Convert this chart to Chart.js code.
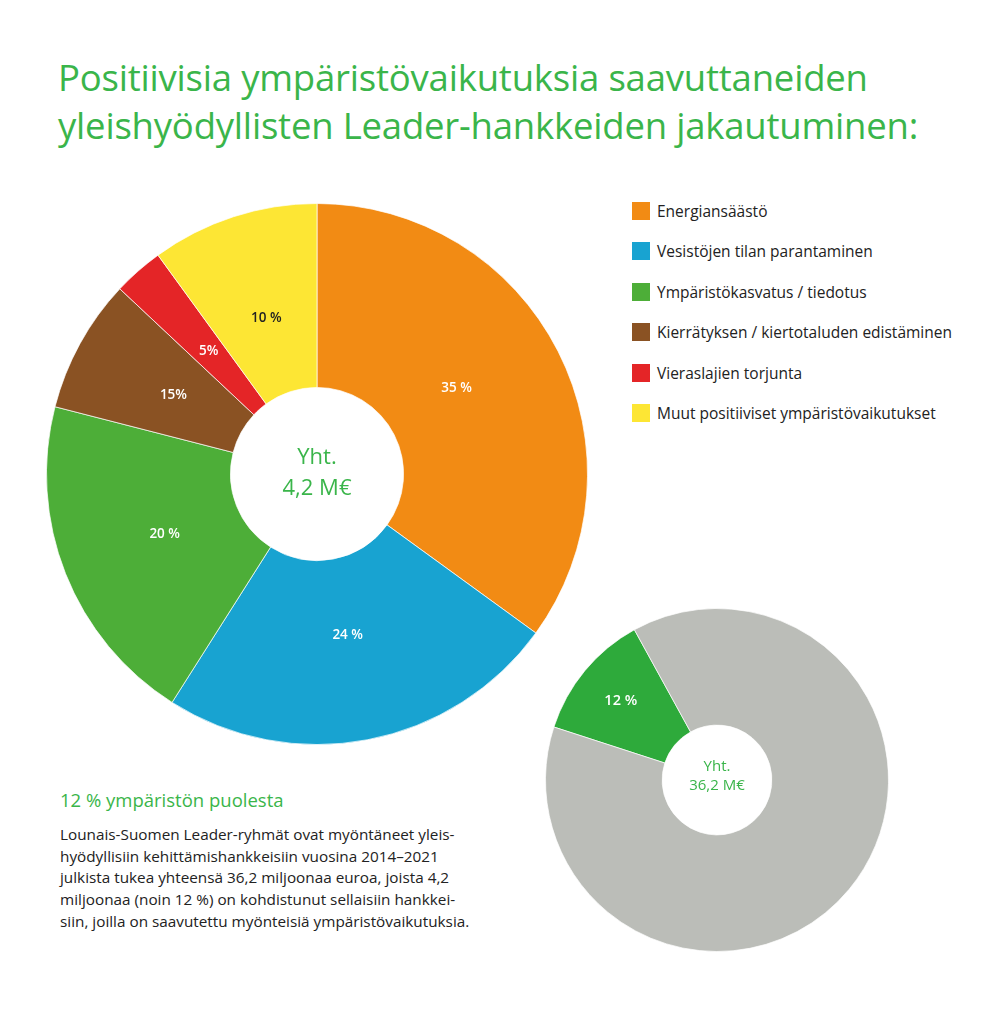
<!DOCTYPE html>
<html>
<head>
<meta charset="utf-8">
<script src="https://cdn.jsdelivr.net/npm/chart.js@4.4.1/dist/chart.umd.min.js"></script>
<style>
  body { margin: 0; background: #fff; font-family: 'Open Sans', sans-serif; }
  #page { position: relative; width: 984px; height: 1024px; overflow: hidden; }
  h1 { position: absolute; left: 58px; top: 53px; margin: 0; font-weight: 400; font-size: 36.5px; line-height: 48px; color: #3ab54a; letter-spacing: -0.2px; }
  #bigWrap { position: absolute; left: 46px; top: 203px; width: 542px; height: 542px; }
  #smallWrap { position: absolute; left: 545px; top: 608px; width: 344px; height: 344px; }
  .center { position: absolute; text-align: center; color: #3ab54a; }
  #legend { position: absolute; left: 632px; top: 202px; font-size: 15.5px; color: #222; }
  #legend div { height: 40.4px; display: flex; align-items: flex-start; }
  #legend span.box { width: 18px; height: 18px; margin-right: 7px; display: inline-block; flex: none; }
  #legend span.txt { margin-top: -2px; }
  #sub { position: absolute; left: 60px; top: 787px; font-size: 18.5px; color: #3ab54a; }
  #para { position: absolute; left: 60px; top: 824px; font-size: 15.3px; line-height: 21.7px; color: #222; }
</style>
</head>
<body>
<div id="page">
  <h1>Positiivisia ympäristövaikutuksia saavuttaneiden<br>yleishyödyllisten Leader-hankkeiden jakautuminen:</h1>
  <div id="bigWrap"><canvas id="big"></canvas></div>
  <div class="center" style="left:257px; top:440px; width:120px; font-size:22px; line-height:31px;">Yht.<br>4,2 M€</div>
  <div id="smallWrap"><canvas id="small"></canvas></div>
  <div class="center" style="left:667px; top:756px; width:100px; font-size:15px; line-height:19px;">Yht.<br>36,2 M€</div>
  <div id="legend"></div>
  <div id="sub">12 % ympäristön puolesta</div>
  <div id="para">Lounais-Suomen Leader-ryhmät ovat myöntäneet yleis-<br>hyödyllisiin kehittämishankkeisiin vuosina 2014–2021<br>julkista tukea yhteensä 36,2 miljoonaa euroa, joista 4,2<br>miljoonaa (noin 12 %) on kohdistunut sellaisiin hankkei-<br>siin, joilla on saavutettu myönteisiä ympäristövaikutuksia.</div>
</div>
<script>
// categories and values
const categories = ['Energiansäästö', 'Vesistöjen tilan parantaminen', 'Ympäristökasvatus / tiedotus',
  'Kierrätyksen / kiertotaluden edistäminen', 'Vieraslajien torjunta', 'Muut positiiviset ympäristövaikutukset'];
const sliceValues = [35, 24, 20, 8, 3, 10];
const sliceLabels = ['35 %', '24 %', '20 %', '15%', '5%', '10 %'];
const sliceColors = ['#f28b14', '#18a3d1', '#4dae38', '#8a5223', '#e42527', '#fde634'];
const labelColors = ['#fff', '#fff', '#fff', '#fff', '#fff', '#222'];

const totalCategories = ['Ympäristövaikutukset', 'Muut hankkeet'];
const totalValues = [12, 88];
const totalLabels = ['12 %', ''];
const totalColors = ['#2eaa3b', '#bbbdb8'];

// draws the percentage text inside each slice
const sliceText = {
  id: 'sliceText',
  afterDatasetsDraw(chart, args, opts) {
    const ctx = chart.ctx;
    const meta = chart.getDatasetMeta(0);
    ctx.save();
    ctx.font = '600 ' + opts.size + 'px "Open Sans", sans-serif';
    ctx.textAlign = 'center';
    ctx.textBaseline = 'middle';
    meta.data.forEach((arc, i) => {
      const txt = opts.labels[i];
      if (!txt) return;
      const p = arc.getProps(['x', 'y', 'startAngle', 'endAngle', 'innerRadius', 'outerRadius']);
      const a = (p.startAngle + p.endAngle) / 2 - (opts.shift ? opts.shift[i] : 0);
      const r = p.innerRadius + (p.outerRadius - p.innerRadius) * opts.pos;
      ctx.fillStyle = opts.colors[i];
      ctx.fillText(txt, p.x + Math.cos(a) * r, p.y + Math.sin(a) * r);
    });
    ctx.restore();
  }
};

function makeDoughnut(id, labels, data, colors, textOpts, rotation) {
  return new Chart(document.getElementById(id), {
    type: 'doughnut',
    data: {
      labels: labels,
      datasets: [{
        data: data,
        backgroundColor: colors,
        borderColor: 'rgba(255,255,255,0.7)',
        borderWidth: 1
      }]
    },
    options: {
      responsive: true,
      maintainAspectRatio: true,
      animation: false,
      cutout: '32%',
      rotation: rotation,
      layout: { padding: 0 },
      plugins: {
        legend: { display: false },
        tooltip: { enabled: false },
        sliceText: textOpts
      }
    },
    plugins: [sliceText]
  });
}

makeDoughnut('big', categories, sliceValues, sliceColors,
  { labels: sliceLabels, colors: labelColors, size: 13.5, pos: 0.42, shift: [0.08, 0, 0, 0, 0, 0] }, 0);
makeDoughnut('small', totalCategories, totalValues, totalColors,
  { labels: totalLabels, colors: ['#fff', '#fff'], size: 14.5, pos: 0.6 }, 288);

// legend from the same arrays
const legend = document.getElementById('legend');
categories.forEach((c, i) => {
  const row = document.createElement('div');
  row.innerHTML = '<span class="box" style="background:' + sliceColors[i] + '"></span><span class="txt">' + c + '</span>';
  legend.appendChild(row);
});
</script>
</body>
</html>
